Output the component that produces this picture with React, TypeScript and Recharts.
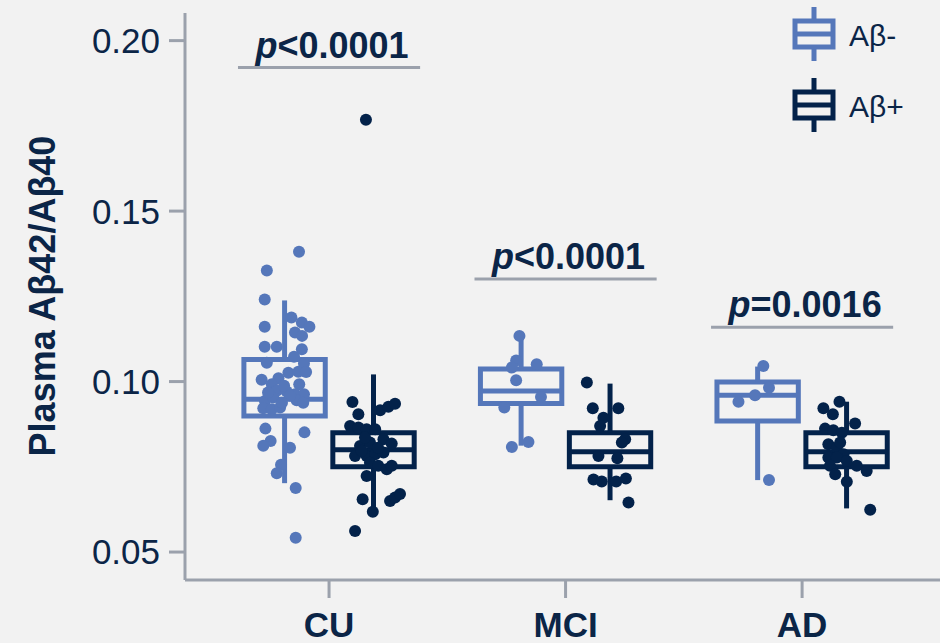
import React from 'react';
import { ComposedChart, XAxis, YAxis, Scatter, ReferenceArea, ReferenceLine, Legend } from 'recharts';

const categories = ['CU', 'MCI', 'AD'];
const seriesNames = ['Aβ-', 'Aβ+'];
const yTicks = [0.05, 0.1, 0.15, 0.2];
const pLabels = ['<0.0001', '<0.0001', '=0.0016'];
const sigLineY = [0.1921, 0.1301, 0.1159];

// [whiskerLow, q1, median, q3, whiskerHigh] per category
const negBoxes = [
  [0.0702, 0.0899, 0.0948, 0.1065, 0.1238],
  [0.0812, 0.0936, 0.0972, 0.1037, 0.1135],
  [0.0711, 0.0884, 0.096, 0.0999, 0.1044],
];
const posBoxes = [
  [0.0604, 0.075, 0.08, 0.085, 0.1021],
  [0.0652, 0.075, 0.0794, 0.085, 0.0994],
  [0.0628, 0.075, 0.0794, 0.085, 0.0941],
];

// individual points: values and horizontal jitter (in category units, from category centre)
const cuNegY = [0.1381, 0.1326, 0.1241, 0.1161, 0.1188, 0.1173, 0.1161, 0.1144, 0.1134, 0.1102, 0.1102, 0.1095, 0.1073, 0.1055, 0.1053, 0.1026, 0.1029, 0.1028, 0.1005, 0.101, 0.0992, 0.0992, 0.0973, 0.0971, 0.0963, 0.0963, 0.0945, 0.0938, 0.0943, 0.0953, 0.0922, 0.0919, 0.0924, 0.0862, 0.0851, 0.0826, 0.0812, 0.0806, 0.0756, 0.0731, 0.0688, 0.0542, 0.0988, 0.0959, 0.0968, 0.0938];
const cuNegDx = [-0.127, -0.263, -0.272, -0.272, -0.159, -0.115, -0.083, -0.144, -0.114, -0.272, -0.221, -0.115, -0.148, -0.263, -0.106, -0.172, -0.13, -0.097, -0.285, -0.214, -0.242, -0.126, -0.221, -0.179, -0.144, -0.106, -0.137, -0.109, -0.271, -0.236, -0.278, -0.242, -0.207, -0.269, -0.104, -0.247, -0.278, -0.165, -0.203, -0.221, -0.141, -0.141, -0.19, -0.165, -0.258, -0.199];
const cuPosY = [0.094, 0.0916, 0.0926, 0.0935, 0.0904, 0.087, 0.0865, 0.086, 0.086, 0.0831, 0.0818, 0.0811, 0.0782, 0.0782, 0.0787, 0.0792, 0.0797, 0.0762, 0.0753, 0.0743, 0.0753, 0.0723, 0.0655, 0.065, 0.066, 0.067, 0.0618, 0.0562, 0.1768, 0.0821, 0.0806, 0.0836];
const cuPosDx = [0.099, 0.216, 0.251, 0.279, 0.124, 0.089, 0.124, 0.159, 0.195, 0.23, 0.265, 0.131, 0.11, 0.159, 0.195, 0.23, 0.138, 0.173, 0.208, 0.244, 0.265, 0.159, 0.142, 0.258, 0.279, 0.3, 0.185, 0.11, 0.156, 0.173, 0.207, 0.152];
const mciNegY = [0.1134, 0.1062, 0.1041, 0.1051, 0.1004, 0.0955, 0.0924, 0.0808, 0.0823];
const mciNegDx = [-0.195, -0.209, -0.227, -0.122, -0.209, -0.104, -0.259, -0.227, -0.157];
const mciPosY = [0.0997, 0.0922, 0.0922, 0.0894, 0.087, 0.0831, 0.0821, 0.0782, 0.0775, 0.0713, 0.0707, 0.0707, 0.0716, 0.0645];
const mciPosDx = [0.09, 0.115, 0.223, 0.16, 0.146, 0.252, 0.238, 0.139, 0.219, 0.118, 0.153, 0.214, 0.255, 0.266];
const adNegY = [0.1046, 0.0982, 0.096, 0.0941, 0.0711];
const adNegDx = [-0.164, -0.14, -0.199, -0.269, -0.14];
const adPosY = [0.0941, 0.0922, 0.0904, 0.0877, 0.0862, 0.0857, 0.085, 0.0816, 0.0806, 0.0787, 0.0777, 0.0777, 0.0753, 0.0753, 0.0738, 0.0728, 0.0706, 0.0624, 0.0821, 0.0767];
const adPosDx = [0.158, 0.09, 0.13, 0.224, 0.097, 0.132, 0.168, 0.111, 0.147, 0.175, 0.111, 0.147, 0.118, 0.231, 0.273, 0.14, 0.189, 0.288, 0.161, 0.189];

const NEG = '#5577BA';
const POS = '#03224A';
const NAVY = '#0B2547';
const GRAY = '#9BA1AC';
const BG = '#F2F2F2';
const FONT = '"Liberation Sans", Arial, sans-serif';

const GROUP_OFFSET = 0.188;
const HALF_BOX = 0.172;
const SIG_HALF = 0.385;

const build = (ys: number[], dxs: number[], idx: number) => ys.map((y, i) => ({ x: idx + 1 + dxs[i], y }));
const negData = [...build(cuNegY, cuNegDx, 0), ...build(mciNegY, mciNegDx, 1), ...build(adNegY, adNegDx, 2)];
const posData = [...build(cuPosY, cuPosDx, 0), ...build(mciPosY, mciPosDx, 1), ...build(adPosY, adPosDx, 2)];

const dot = (color: string) => (props: any) => <circle cx={props.cx} cy={props.cy} r={6} fill={color} />;

const boxElements = (boxes: number[][], sign: number, color: string, key: string) =>
  boxes.flatMap((b, i) => {
    const c = i + 1 + sign * GROUP_OFFSET;
    const [lo, q1, med, q3, hi] = b;
    return [
      <ReferenceLine key={`${key}wh${i}`} segment={[{ x: c, y: q3 }, { x: c, y: hi }]} stroke={color} strokeWidth={5} ifOverflow="visible" />,
      <ReferenceLine key={`${key}wl${i}`} segment={[{ x: c, y: lo }, { x: c, y: q1 }]} stroke={color} strokeWidth={5} ifOverflow="visible" />,
      <ReferenceArea key={`${key}b${i}`} x1={c - HALF_BOX} x2={c + HALF_BOX} y1={q1} y2={q3} fill="none" fillOpacity={0} stroke={color} strokeWidth={5} strokeOpacity={1} ifOverflow="visible" />,
      <ReferenceLine key={`${key}m${i}`} segment={[{ x: c - HALF_BOX, y: med }, { x: c + HALF_BOX, y: med }]} stroke={color} strokeWidth={5} ifOverflow="visible" />,
    ];
  });

const sigLabel = (text: string) => (props: any) => {
  const vb = props.viewBox || {};
  const cx = (vb.x || 0) + (vb.width || 0) / 2 + 3;
  const y = (vb.y || 0) - 10;
  return (
    <text x={cx} y={y} textAnchor="middle" fontSize={36} fontWeight="bold" fill={NAVY} fontFamily={FONT}>
      <tspan fontStyle="italic">p</tspan>
      {text}
    </text>
  );
};

const renderLegend = () => (
  <svg width={160} height={140} style={{ display: 'block' }}>
    {seriesNames.map((name, i) => {
      const color = i === 0 ? NEG : POS;
      const cy = 34 + i * 71;
      return (
        <g key={name}>
          <line x1={34} x2={34} y1={cy - 27} y2={cy + 27} stroke={color} strokeWidth={5} />
          <rect x={15} y={cy - 13} width={38} height={26} fill={BG} stroke={color} strokeWidth={5} />
          <line x1={15} x2={53} y1={cy} y2={cy} stroke={color} strokeWidth={5} />
          <text x={69} y={cy + 12} fontSize={30} fill={NAVY} fontFamily={FONT}>{name}</text>
        </g>
      );
    })}
  </svg>
);

const yLabel = () => (
  <text x={42} y={296} transform="rotate(-90, 42, 296)" textAnchor="middle" dominantBaseline="central" fontSize={36} fontWeight="bold" fill={NAVY} fontFamily={FONT}>
    Plasma Aβ42/Aβ40
  </text>
);

export default function App() {
  return (
    <div style={{ position: 'absolute', left: 0, top: 0, width: 940, height: 643, background: BG, overflow: 'hidden' }}>
      <ComposedChart width={940} height={643} margin={{ top: 13, right: 0, bottom: 0, left: 0 }}>
        <XAxis
          type="number"
          dataKey="x"
          domain={[0.391, 3.583]}
          allowDataOverflow
          ticks={[1, 2, 3]}
          tickFormatter={(v: number) => categories[Math.round(v) - 1]}
          height={63}
          axisLine={{ stroke: GRAY, strokeWidth: 3 }}
          tickLine={{ stroke: GRAY, strokeWidth: 3 }}
          tickSize={18}
          tickMargin={14}
          tick={{ fill: NAVY, fontSize: 35, fontWeight: 'bold', fontFamily: FONT }}
        />
        <YAxis
          type="number"
          dataKey="y"
          domain={[0.0418, 0.2081]}
          allowDataOverflow
          ticks={yTicks}
          tickFormatter={(v: number) => v.toFixed(2)}
          width={185}
          axisLine={{ stroke: GRAY, strokeWidth: 3 }}
          tickLine={{ stroke: GRAY, strokeWidth: 3 }}
          tickSize={16}
          tickMargin={9}
          tick={{ fill: NAVY, fontSize: 35, fontFamily: FONT }}
          label={yLabel}
        />
        <Legend
          layout="vertical"
          align="center"
          verticalAlign="middle"
          content={renderLegend}
          wrapperStyle={{ position: 'absolute', left: 780, top: 0, width: 160, height: 140 }}
        />
        {categories.map((c, i) => (
          <ReferenceLine
            key={`sig${c}`}
            segment={[{ x: i + 1 - SIG_HALF, y: sigLineY[i] }, { x: i + 1 + SIG_HALF, y: sigLineY[i] }]}
            stroke={GRAY}
            strokeWidth={3}
            ifOverflow="visible"
            label={sigLabel(pLabels[i])}
          />
        ))}
        {boxElements(negBoxes, -1, NEG, 'n')}
        {boxElements(posBoxes, 1, POS, 'p')}
        <Scatter name={seriesNames[0]} data={negData} fill={NEG} shape={dot(NEG)} isAnimationActive={false} />
        <Scatter name={seriesNames[1]} data={posData} fill={POS} shape={dot(POS)} isAnimationActive={false} />
      </ComposedChart>
    </div>
  );
}
